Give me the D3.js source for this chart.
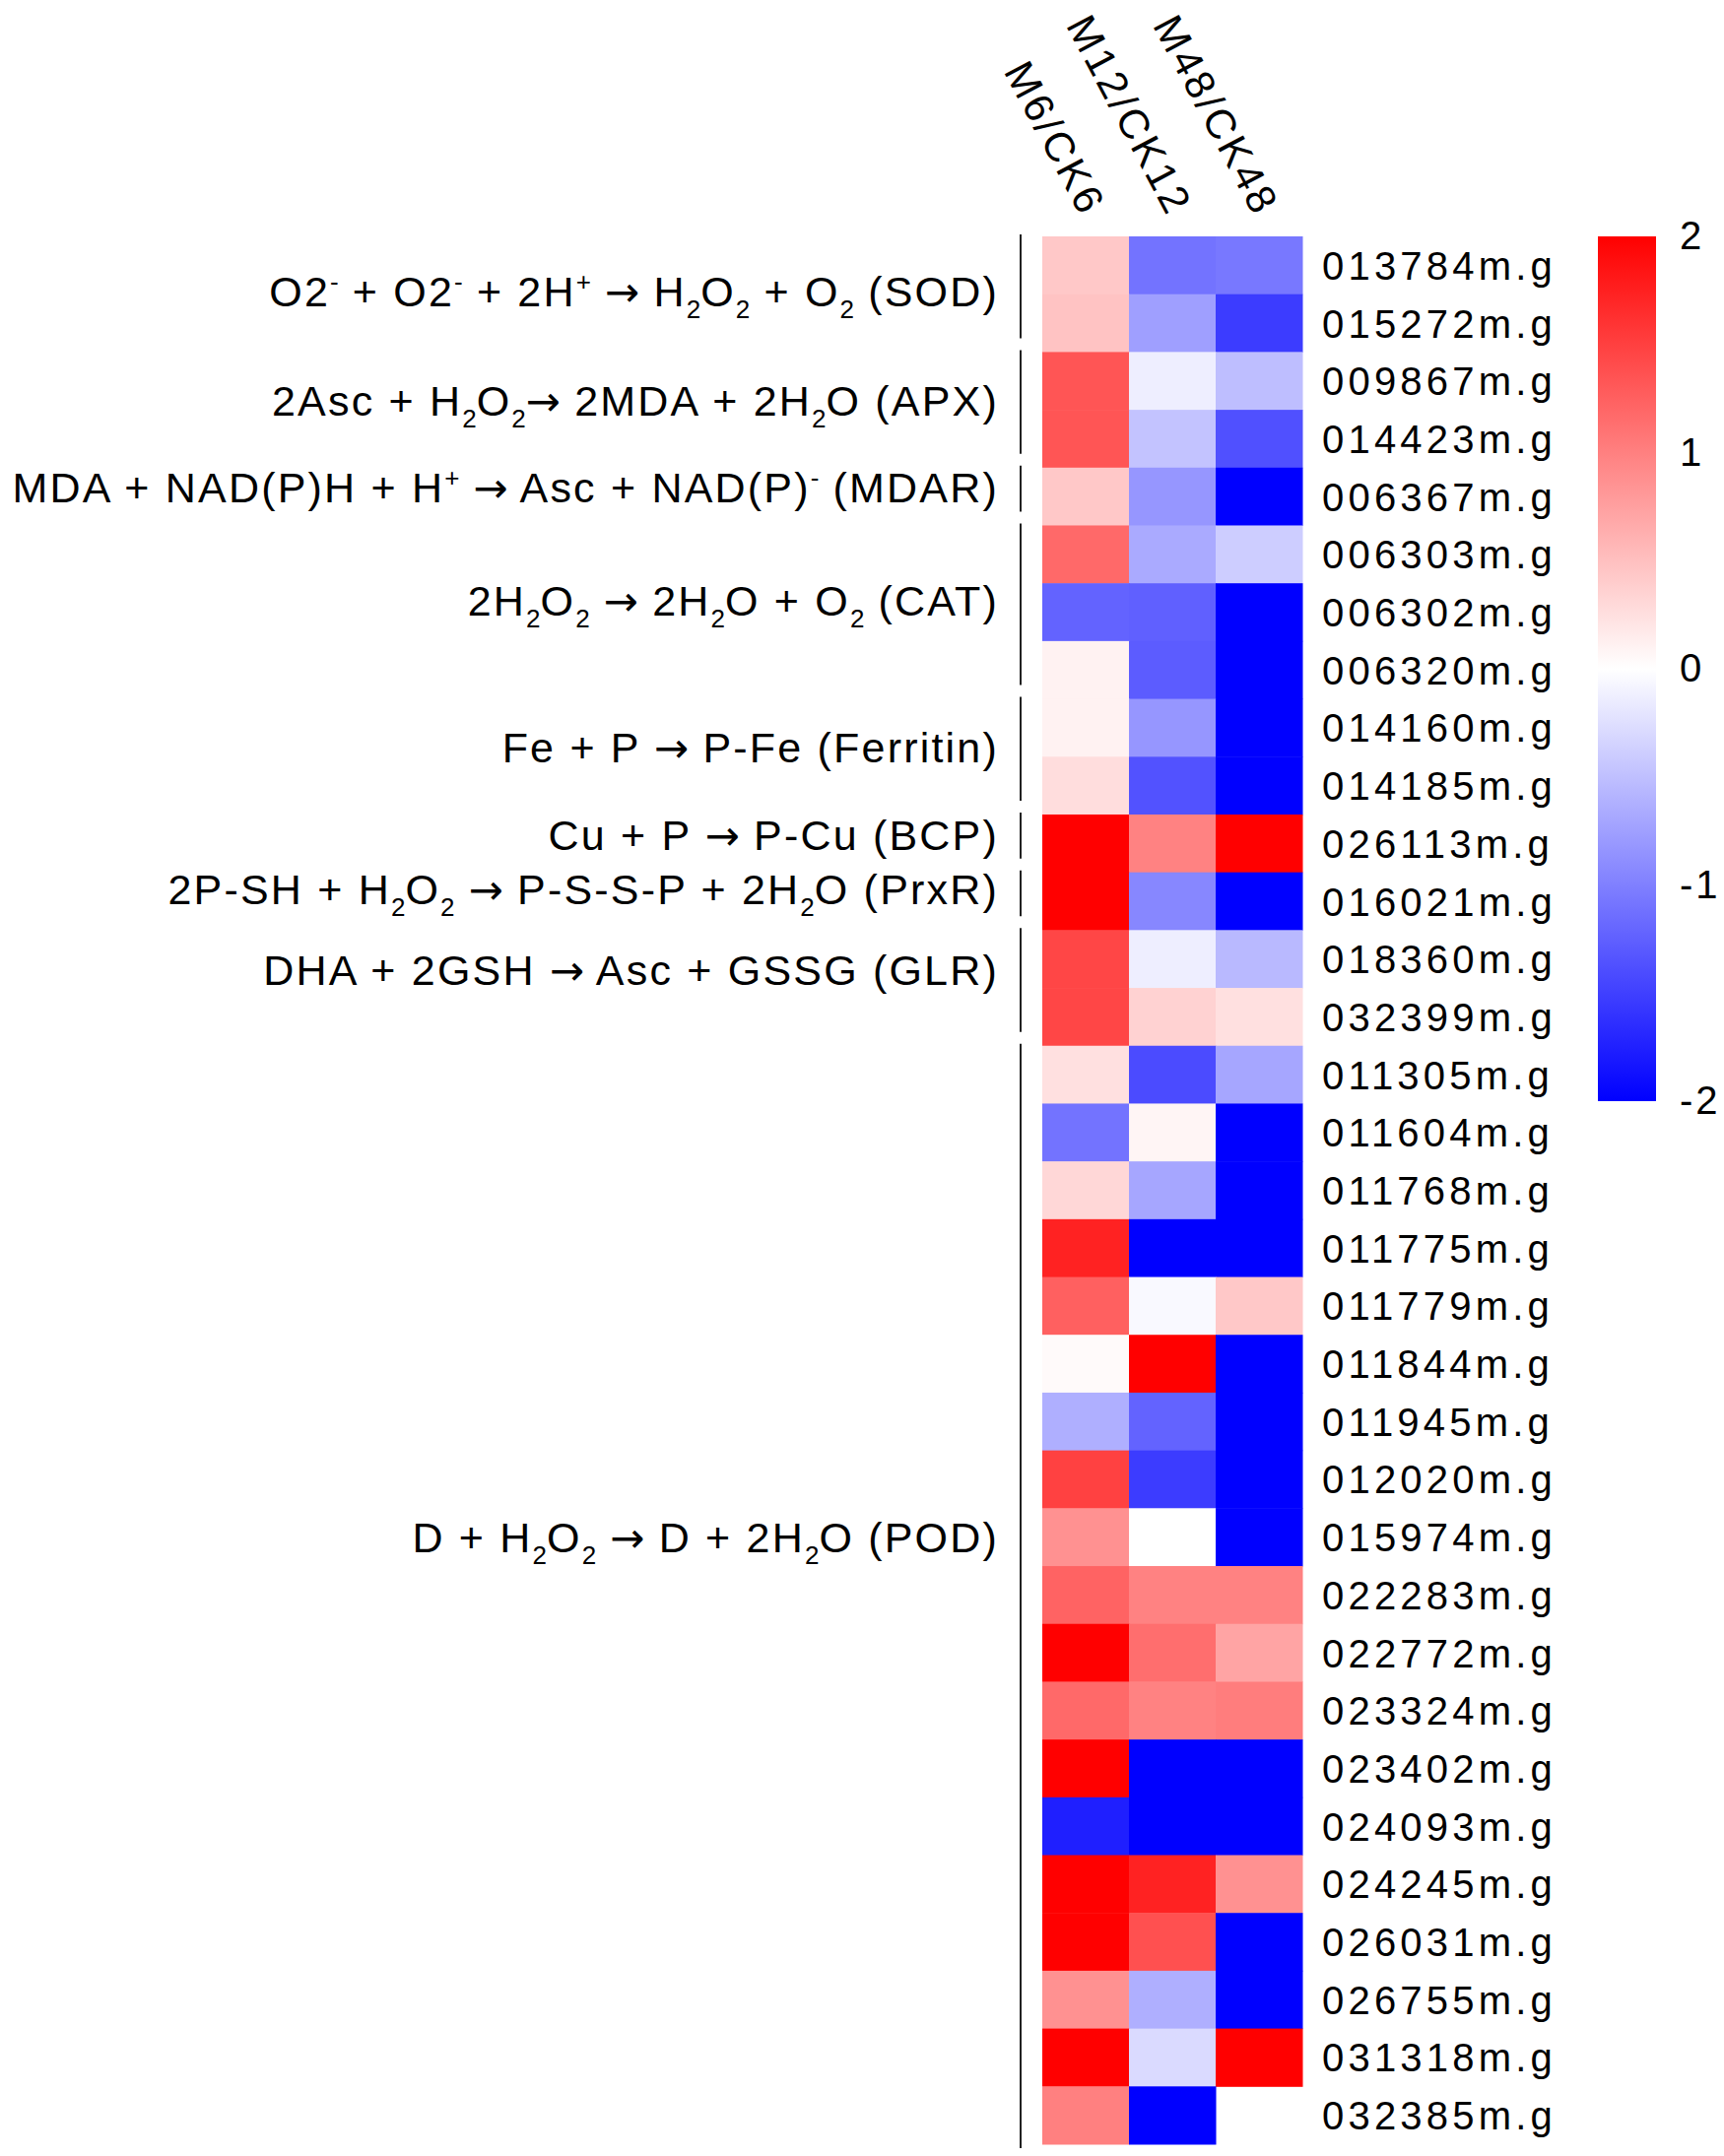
<!DOCTYPE html>
<html lang="en">
<head>
  <meta charset="UTF-8">
  <title>ROS gene heatmap</title>
  <script src="https://cdn.jsdelivr.net/npm/d3@7/dist/d3.min.js"></script>
  <style>
    body { margin: 0; background: #fff; }
    text { font-family: "Liberation Sans", Arial, Helvetica, sans-serif; fill: #000; }
  </style>
</head>
<body>
  <script>

  // canvas
  var w = 1750;
  var h = 2189;

  // genes (rows, top to bottom)
  var genes = ["013784m.g", "015272m.g", "009867m.g", "014423m.g", "006367m.g",
               "006303m.g", "006302m.g", "006320m.g", "014160m.g", "014185m.g",
               "026113m.g", "016021m.g", "018360m.g", "032399m.g", "011305m.g",
               "011604m.g", "011768m.g", "011775m.g", "011779m.g", "011844m.g",
               "011945m.g", "012020m.g", "015974m.g", "022283m.g", "022772m.g",
               "023324m.g", "023402m.g", "024093m.g", "024245m.g", "026031m.g",
               "026755m.g", "031318m.g", "032385m.g"];

  // comparisons (columns)
  var samples = ["M6/CK6", "M12/CK12", "M48/CK48"];

  // log2 fold change per comparison (null = no value)
  var m6 = [0.43, 0.47, 1.33, 1.33, 0.43, 1.18, -1.22, 0.1, 0.1, 0.27,
            2, 2, 1.45, 1.45, 0.24, -1.1, 0.31, 1.73, 1.25, 0.04,
            -0.63, 1.49, 0.86, 1.22, 2, 1.18, 2, -1.76, 2, 2,
            0.86, 2, 1.0];
  var m12 = [-1.1, -0.75, -0.13, -0.47, -0.82, -0.67, -1.25, -1.28, -0.82, -1.36,
             0.98, -0.94, -0.13, 0.35, -1.41, 0.08, -0.7, -2, -0.05, 2,
             -1.22, -1.53, 0, 0.98, 1.14, 0.98, -2, -2, 1.73, 1.37,
             -0.63, -0.29, -2];
  var m48 = [-1.06, -1.53, -0.51, -1.37, -2, -0.39, -2, -2, -2, -2,
             2, -2, -0.55, 0.24, -0.7, -2, -2, -2, 0.43, -2,
             -2, -2, -2, 0.98, 0.71, 1.02, -2, -2, 0.86, -2,
             -2, 2, null];

  // reaction groups: label, first row, row after last, row where the label sits
  var groupLabels = ["O2^- + O2^- + 2H^+ \u2192 H_2O_2 + O_2 (SOD)",
                     "2Asc + H_2O_2\u2192 2MDA + 2H_2O (APX)",
                     "MDA + NAD(P)H + H^+ \u2192 Asc + NAD(P)^- (MDAR)",
                     "2H_2O_2 \u2192 2H_2O + O_2 (CAT)",
                     "Fe + P \u2192 P-Fe (Ferritin)",
                     "Cu + P \u2192 P-Cu (BCP)",
                     "2P-SH + H_2O_2 \u2192 P-S-S-P + 2H_2O (PrxR)",
                     "DHA + 2GSH \u2192 Asc + GSSG (GLR)",
                     "D + H_2O_2 \u2192 D + 2H_2O (POD)"];
  var groupStart = [0, 2, 4, 5, 8, 10, 11, 12, 14];
  var groupEnd   = [2, 4, 5, 8, 10, 11, 12, 14, 33];
  var labelRow   = [0.95, 2.85, 4.35, 6.3, 8.85, 10.35, 11.3, 12.7, 22.5];

  // colour bar ticks
  var legendTicks = [2, 1, 0, -1, -2];

  var values = [m6, m12, m48];
  var cells = [];
  genes.forEach(function(g, i) {
    samples.forEach(function(s, j) {
      cells.push({gene: g, sample: s, value: values[j][i]});
    });
  });

  var svg = d3.select("body").append("svg")
      .attr("width", w)
      .attr("height", h);

  //Scales
  var xScale = d3.scaleBand().domain(samples).range([1058, 1322]);
  var yScale = d3.scaleBand().domain(genes).range([240, 2177]);
  var rowScale = d3.scaleLinear().domain([0, genes.length]).range([240, 2177]);
  var color = d3.scaleLinear()
      .domain([-2, 0, 2])
      .range(["#0000ff", "#ffffff", "#ff0000"])
      .clamp(true);

  //Cells
  svg.append("g").selectAll("rect")
     .data(cells.filter(function(d) { return d.value !== null; }))
     .enter()
     .append("rect")
     .attr("x", function(d) { return xScale(d.sample); })
     .attr("y", function(d) { return yScale(d.gene); })
     .attr("width", xScale.bandwidth() + 0.5)
     .attr("height", yScale.bandwidth() + 0.5)
     .attr("fill", function(d) { return color(d.value); });

  //Gene labels on the right
  svg.append("g").selectAll("text")
     .data(genes)
     .enter()
     .append("text")
     .attr("x", 1342)
     .attr("y", function(d) { return yScale(d) + yScale.bandwidth() / 2 + 14.5; })
     .style("font-size", "40px")
     .style("letter-spacing", "4.2px")
     .text(function(d) { return d; });

  //Column headers, rotated
  svg.append("g").selectAll("text")
     .data(samples)
     .enter()
     .append("text")
     .attr("transform", function(d) {
        return "translate(" + (xScale(d) + xScale.bandwidth() / 2 - 4) + ",222) rotate(62)";
     })
     .style("text-anchor", "end")
     .style("font-size", "42px")
     .style("letter-spacing", "3px")
     .text(function(d) { return d; });

  //Group brackets
  var groups = groupLabels.map(function(l, i) {
    return {label: l, start: groupStart[i], end: groupEnd[i], at: labelRow[i]};
  });

  svg.append("g").selectAll("line")
     .data(groups)
     .enter()
     .append("line")
     .attr("x1", 1036).attr("x2", 1036)
     .attr("y1", function(d) { return rowScale(d.start) - 2; })
     .attr("y2", function(d) {
        return d.end === genes.length ? rowScale(d.end) + 4 : rowScale(d.end) - 14;
     })
     .attr("stroke", "#222")
     .attr("stroke-width", 2);

  // split "H_2O^-" style strings into pieces of normal, sub, super and arrow text
  function pieces(str) {
    var out = [];
    for (var k = 0; k < str.length; k++) {
      var c = str[k];
      if ((c === "_" || c === "^") && k + 1 < str.length) {
        out.push({t: str[k + 1], mode: c === "_" ? "sub" : "sup"});
        k++;
      } else if (c === "\u2192") {
        out.push({t: c, mode: "arrow"});
      } else if (out.length && out[out.length - 1].mode === "n") {
        out[out.length - 1].t += c;
      } else {
        out.push({t: c, mode: "n"});
      }
    }
    return out;
  }

  var glabels = svg.append("g").selectAll("text")
     .data(groups)
     .enter()
     .append("text")
     .attr("x", 1014)
     .attr("y", function(d) { return rowScale(d.at) + 15; })
     .style("text-anchor", "end")
     .style("font-size", "43px")
     .style("letter-spacing", "2.2px");

  glabels.each(function(d) {
    var t = d3.select(this);
    var shift = 0;
    pieces(d.label).forEach(function(p) {
      var target = p.mode === "sub" ? 12 : (p.mode === "sup" ? -16 : 0);
      var span = t.append("tspan")
       .attr("dy", target - shift)
       .text(p.t);
      if (p.mode === "sub" || p.mode === "sup") {
        span.style("font-size", "26px").style("letter-spacing", "0px");
      }
      if (p.mode === "arrow") {
        span.style("font-family", "'DejaVu Sans', sans-serif")
            .style("font-size", "42px")
            .style("letter-spacing", "0px");
      }
      shift = target;
    });
  });

  //Colour bar
  var legendY = d3.scaleLinear().domain([2, -2]).range([240, 1118]);
  var defs = svg.append("defs");
  var grad = defs.append("linearGradient")
      .attr("id", "bar")
      .attr("x1", 0).attr("x2", 0).attr("y1", 0).attr("y2", 1);
  grad.selectAll("stop")
      .data(legendTicks)
      .enter()
      .append("stop")
      .attr("offset", function(d) { return (legendY(d) - 240) / (1118 - 240); })
      .attr("stop-color", function(d) { return color(d); });

  svg.append("rect")
     .attr("x", 1622)
     .attr("y", legendY(2))
     .attr("width", 59)
     .attr("height", legendY(-2) - legendY(2))
     .attr("fill", "url(#bar)");

  var legendAxis = d3.axisRight(legendY)
      .tickValues(legendTicks)
      .tickSize(0)
      .tickPadding(0)
      .tickFormat(function(d) { return String(d); });

  svg.append("g")
     .attr("class", "legend-axis")
     .attr("transform", "translate(1705,0)")
     .call(legendAxis)
     .call(function(g) { g.select(".domain").remove(); })
     .selectAll("text")
     .style("font-size", "40px")
     .style("letter-spacing", "3px")
     .style("font-family", "'Liberation Sans', Arial, sans-serif")
     .attr("fill", "#000");

  </script>
</body>
</html>
